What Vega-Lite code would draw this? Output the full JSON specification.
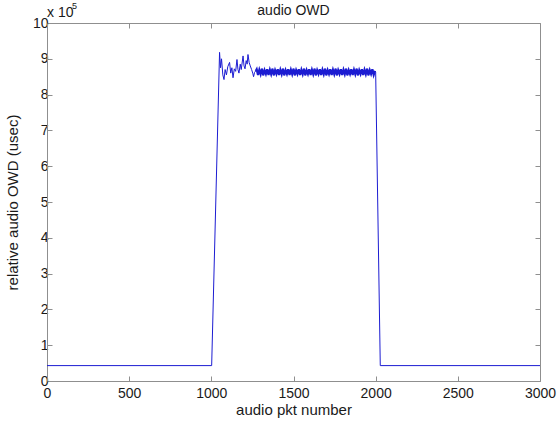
{
  "$schema": "https://vega.github.io/schema/vega-lite/v6.json",
  "width": 493,
  "height": 358,
  "autosize": {"type": "none"},
  "padding": {"left": 47, "top": 23, "right": 20, "bottom": 42},
  "background": "white",
  "datasets": {
    "owd": [
    {"p": 0, "v": 0.43}, {"p": 1002, "v": 0.43}, {"p": 1050, "v": 9.18}, {"p": 1056, "v": 8.75}, {"p": 1062, "v": 9.0}, {"p": 1070, "v": 8.55}, {"p": 1077, "v": 8.42}, {"p": 1084, "v": 8.7}, {"p": 1092, "v": 8.55}, {"p": 1100, "v": 8.78}, {"p": 1111, "v": 8.9}, {"p": 1118, "v": 8.6}, {"p": 1125, "v": 8.75}, {"p": 1132, "v": 8.47}, {"p": 1140, "v": 8.72}, {"p": 1148, "v": 8.65}, {"p": 1156, "v": 8.98}, {"p": 1162, "v": 8.7}, {"p": 1168, "v": 8.6}, {"p": 1176, "v": 8.85}, {"p": 1182, "v": 8.7}, {"p": 1193, "v": 9.08}, {"p": 1199, "v": 8.8}, {"p": 1205, "v": 8.72}, {"p": 1212, "v": 8.95}, {"p": 1218, "v": 8.85}, {"p": 1223, "v": 9.12}, {"p": 1230, "v": 8.9}, {"p": 1237, "v": 8.8}, {"p": 1245, "v": 8.7}, {"p": 1252, "v": 8.6}, {"p": 1257, "v": 8.5}, {"p": 1263, "v": 8.62}, {"p": 1270, "v": 8.66},
    {"p": 1276, "v": 8.71}, {"p": 1284, "v": 8.55}, {"p": 1292, "v": 8.69}, {"p": 1300, "v": 8.57}, {"p": 1308, "v": 8.72}, {"p": 1316, "v": 8.54}, {"p": 1324, "v": 8.68}, {"p": 1332, "v": 8.58}, {"p": 1340, "v": 8.71}, {"p": 1348, "v": 8.55}, {"p": 1356, "v": 8.69}, {"p": 1364, "v": 8.57}, {"p": 1372, "v": 8.72}, {"p": 1380, "v": 8.54}, {"p": 1388, "v": 8.68}, {"p": 1396, "v": 8.58}, {"p": 1404, "v": 8.71}, {"p": 1412, "v": 8.55}, {"p": 1420, "v": 8.69}, {"p": 1428, "v": 8.57}, {"p": 1436, "v": 8.72}, {"p": 1444, "v": 8.54}, {"p": 1452, "v": 8.68}, {"p": 1460, "v": 8.58}, {"p": 1468, "v": 8.71}, {"p": 1476, "v": 8.55}, {"p": 1484, "v": 8.69}, {"p": 1492, "v": 8.57}, {"p": 1500, "v": 8.72}, {"p": 1508, "v": 8.54}, {"p": 1516, "v": 8.68}, {"p": 1524, "v": 8.58}, {"p": 1532, "v": 8.71}, {"p": 1540, "v": 8.55}, {"p": 1548, "v": 8.69}, {"p": 1556, "v": 8.57}, {"p": 1564, "v": 8.72}, {"p": 1572, "v": 8.54}, {"p": 1580, "v": 8.68}, {"p": 1588, "v": 8.58}, {"p": 1596, "v": 8.71}, {"p": 1604, "v": 8.55}, {"p": 1612, "v": 8.69}, {"p": 1620, "v": 8.57}, {"p": 1628, "v": 8.72}, {"p": 1636, "v": 8.54}, {"p": 1644, "v": 8.68}, {"p": 1652, "v": 8.58}, {"p": 1660, "v": 8.71}, {"p": 1668, "v": 8.55}, {"p": 1676, "v": 8.69}, {"p": 1684, "v": 8.57}, {"p": 1692, "v": 8.72}, {"p": 1700, "v": 8.54}, {"p": 1708, "v": 8.68}, {"p": 1716, "v": 8.58}, {"p": 1724, "v": 8.71}, {"p": 1732, "v": 8.55}, {"p": 1740, "v": 8.69}, {"p": 1748, "v": 8.57}, {"p": 1756, "v": 8.72}, {"p": 1764, "v": 8.54}, {"p": 1772, "v": 8.68}, {"p": 1780, "v": 8.58}, {"p": 1788, "v": 8.71}, {"p": 1796, "v": 8.55}, {"p": 1804, "v": 8.69}, {"p": 1812, "v": 8.57}, {"p": 1820, "v": 8.72}, {"p": 1828, "v": 8.54}, {"p": 1836, "v": 8.68}, {"p": 1844, "v": 8.58}, {"p": 1852, "v": 8.71}, {"p": 1860, "v": 8.55}, {"p": 1868, "v": 8.69}, {"p": 1876, "v": 8.57}, {"p": 1884, "v": 8.72}, {"p": 1892, "v": 8.54}, {"p": 1900, "v": 8.68}, {"p": 1908, "v": 8.58}, {"p": 1916, "v": 8.71}, {"p": 1924, "v": 8.55}, {"p": 1932, "v": 8.69}, {"p": 1940, "v": 8.57}, {"p": 1948, "v": 8.72}, {"p": 1956, "v": 8.54}, {"p": 1964, "v": 8.68}, {"p": 1972, "v": 8.58}, {"p": 1980, "v": 8.71}, {"p": 1988, "v": 8.55}, {"p": 1996, "v": 8.66},
    {"p": 2000, "v": 8.62}, {"p": 2028, "v": 0.43}, {"p": 3000, "v": 0.43}
    ],
    "labels": [
      {"x": 1500, "y": 10, "t": "audio OWD"},
      {"x": 0, "y": 10, "t": "x 10"}
    ]
  },
  "layer": [
    {
      "data": {"name": "owd"},
      "mark": {"type": "line", "color": "#1c1cd2", "strokeWidth": 1, "clip": true},
      "encoding": {
        "x": {"field": "p", "type": "quantitative", "scale": {"domain": [0, 3000], "nice": false, "zero": false},
          "axis": {"orient": "bottom", "title": "audio pkt number", "format": "d", "values": [0, 500, 1000, 1500, 2000, 2500, 3000], "labelPadding": 10, "titlePadding": 2, "labelFlush": false, "labelOverlap": false}},
        "y": {"field": "v", "type": "quantitative", "scale": {"domain": [0, 10], "nice": false},
          "axis": {"orient": "left", "title": "relative audio OWD (usec)", "format": "d", "values": [0, 1, 2, 3, 4, 5, 6, 7, 8, 9, 10], "labelPadding": 4, "titlePadding": 12, "labelFlush": false, "labelOverlap": false}}
      }
    },
    {
      "data": {"name": "owd"},
      "transform": [{"filter": "datum.p >= 1270 && datum.p <= 1996"}],
      "mark": {"type": "line", "color": "#1c1cd2", "strokeWidth": 2.2},
      "encoding": {
        "x": {"field": "p", "type": "quantitative", "axis": {"orient": "top", "title": null, "labels": false, "values": [0, 500, 1000, 1500, 2000, 2500, 3000]}},
        "y": {"field": "v", "type": "quantitative", "axis": {"orient": "right", "title": null, "labels": false, "values": [0, 1, 2, 3, 4, 5, 6, 7, 8, 9, 10]}}
      }
    },
    {
      "data": {"name": "labels"},
      "transform": [{"filter": "datum.t == 'audio OWD'"}],
      "mark": {"type": "text", "align": "center", "baseline": "alphabetic", "font": "Liberation Sans", "fontSize": 14, "color": "#1a1a1a", "dy": -8},
      "encoding": {
        "x": {"field": "x", "type": "quantitative", "axis": null},
        "y": {"field": "y", "type": "quantitative", "axis": null},
        "text": {"field": "t"}
      }
    },
    {
      "data": {"name": "labels"},
      "transform": [{"filter": "datum.t == 'x 10'"}],
      "mark": {"type": "text", "align": "left", "baseline": "alphabetic", "font": "Liberation Sans", "fontSize": 14, "color": "#1a1a1a", "dx": 0, "dy": -6},
      "encoding": {
        "x": {"field": "x", "type": "quantitative", "axis": null},
        "y": {"field": "y", "type": "quantitative", "axis": null},
        "text": {"field": "t"}
      }
    },
    {
      "data": {"name": "labels"},
      "transform": [{"filter": "datum.t == 'x 10'"}],
      "mark": {"type": "text", "text": "5", "align": "left", "baseline": "alphabetic", "font": "Liberation Sans", "fontSize": 9, "color": "#1a1a1a", "dx": 25, "dy": -14},
      "encoding": {
        "x": {"field": "x", "type": "quantitative", "axis": null},
        "y": {"field": "y", "type": "quantitative", "axis": null}
      }
    }
  ],
  "resolve": {"axis": {"x": "independent", "y": "independent"}},
  "config": {
    "view": {"stroke": null},
    "axis": {
      "grid": false,
      "domainColor": "#8f8f8f",
      "domainWidth": 1,
      "tickColor": "#8f8f8f",
      "tickSize": -5,
      "labelFont": "Liberation Sans",
      "labelFontSize": 14,
      "labelColor": "#1a1a1a",
      "titleFont": "Liberation Sans",
      "titleFontSize": 15,
      "titleFontWeight": "normal",
      "titleColor": "#1a1a1a"
    }
  }
}
